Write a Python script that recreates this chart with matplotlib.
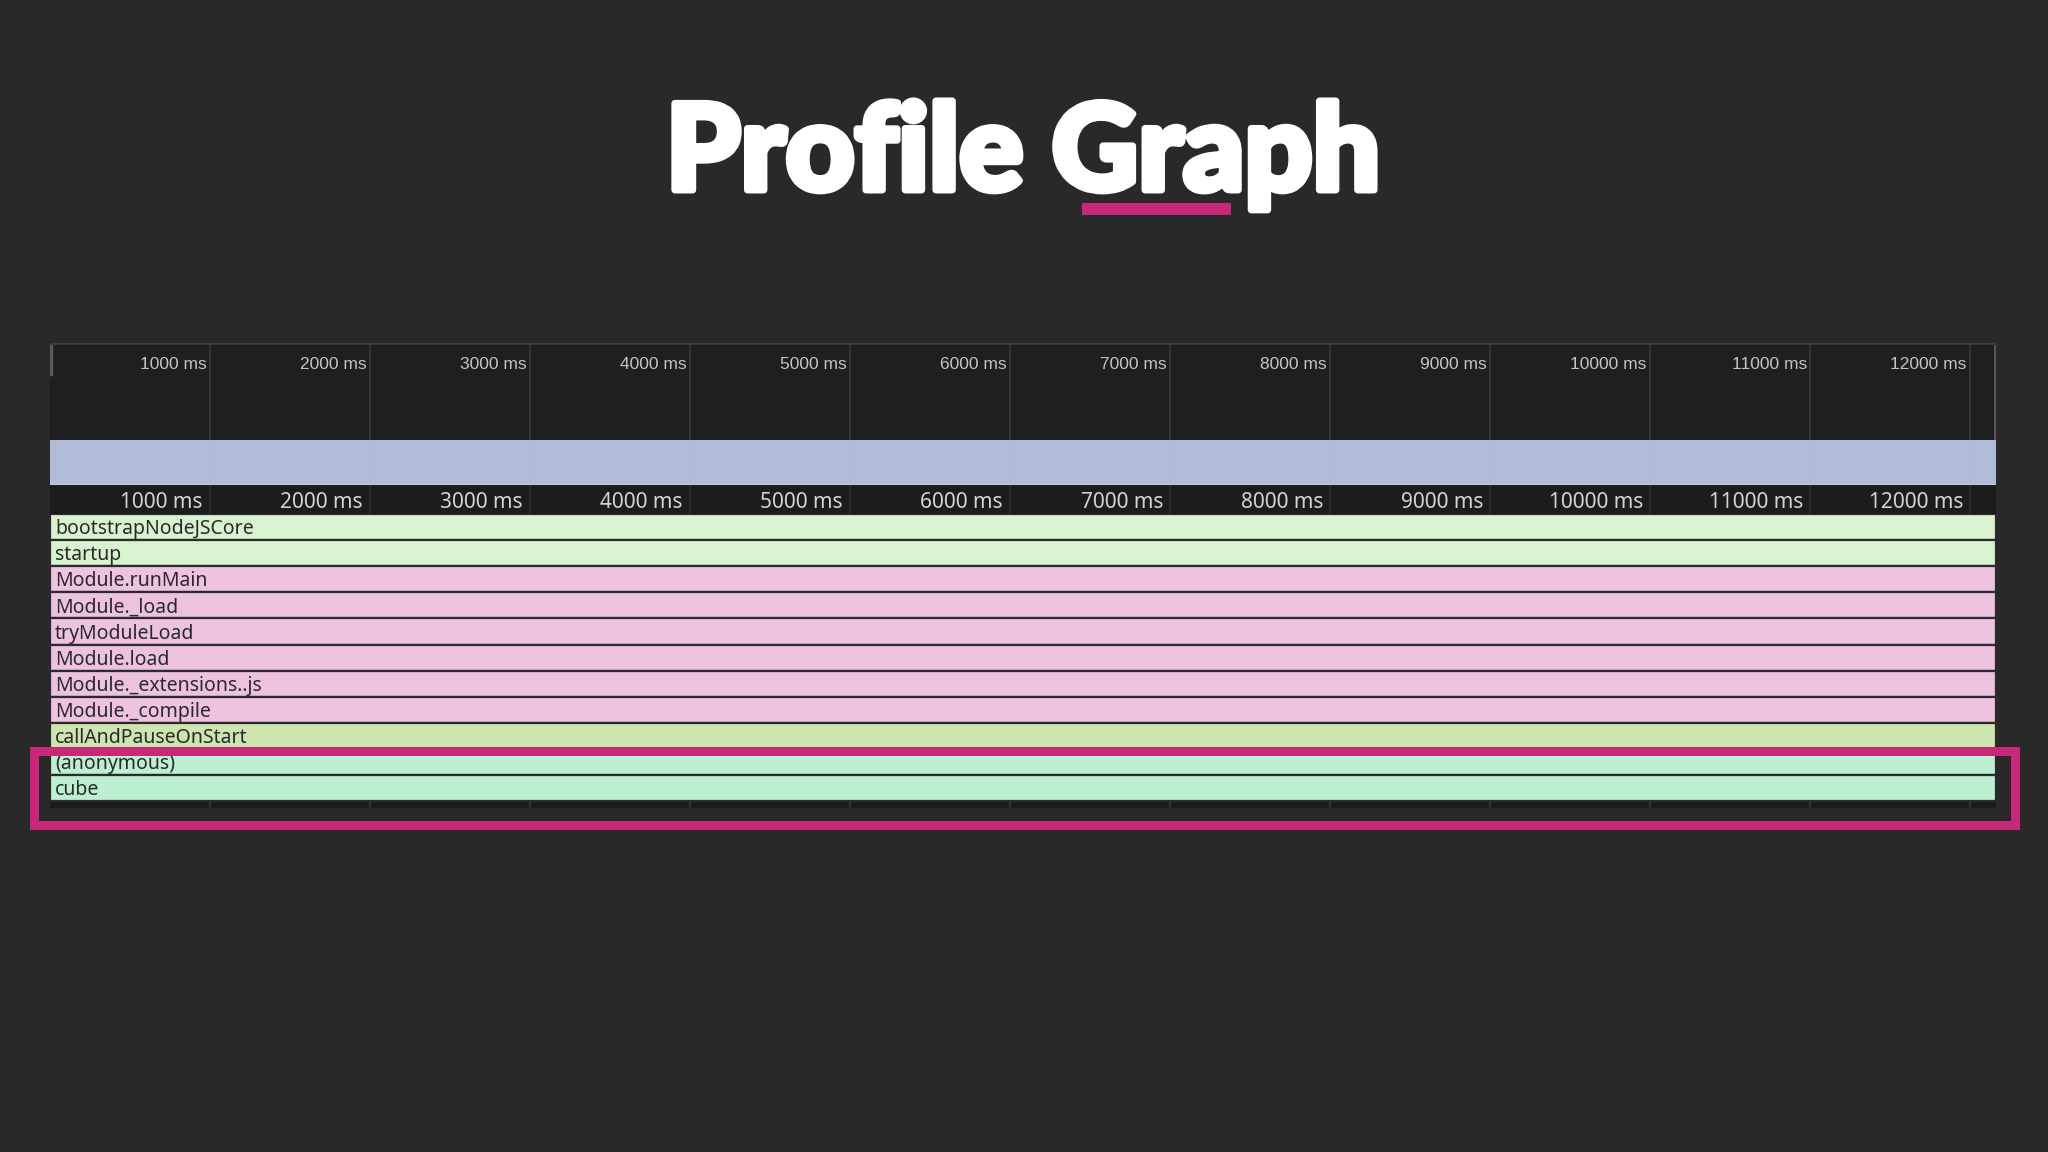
import matplotlib
matplotlib.use("Agg")
import matplotlib.pyplot as plt
import matplotlib.patheffects as pe
from matplotlib.patches import Rectangle

# ---- data ----
frames = ["bootstrapNodeJSCore", "startup", "Module.runMain", "Module._load",
          "tryModuleLoad", "Module.load", "Module._extensions..js",
          "Module._compile", "callAndPauseOnStart", "(anonymous)", "cube"]
frame_start = [0, 0, 0, 0, 0, 0, 0, 0, 0, 0, 0]              # ms
frame_end = [12160, 12160, 12160, 12160, 12160, 12160,
             12160, 12160, 12160, 12160, 12160]              # ms
frame_colors = ["#d9f2d0", "#d9f2d0", "#efc2df", "#edc2dc", "#edc2dc",
                "#edc2dc", "#edc2dc", "#efc2df", "#cde6b0", "#bdf0d2", "#bdf0d2"]
highlighted = ["(anonymous)", "cube"]
tick_ms = [1000, 2000, 3000, 4000, 5000, 6000, 7000, 8000, 9000, 10000, 11000, 12000]
tick_labels = [f"{t} ms" for t in tick_ms]
total_ms = 12160

BG = "#292929"
PANEL = "#1f1f21"
GRID = "#3a3a3c"
PINK = "#c8287a"

W, H = 2048, 1152
fig = plt.figure(figsize=(W / 100, H / 100), dpi=100, facecolor=BG)


def px_axes(x0, y0, x1, y1):
    # box in pixel coords, origin at top-left
    ax = fig.add_axes([x0 / W, 1 - y1 / H, (x1 - x0) / W, (y1 - y0) / H])
    ax.set_xlim(0, total_ms)
    ax.set_xticks([])
    ax.set_yticks([])
    for s in ax.spines.values():
        s.set_visible(False)
    return ax


# title (stroke to fatten the glyphs a bit)
fig.text(1023 / W, 1 - 190 / H, "Profile Graph", ha="center", va="baseline",
         color="white", fontsize=86, fontweight="black", family=["Lato", "DejaVu Sans"],
         path_effects=[pe.withStroke(linewidth=5, foreground="white")])
fig.patches.append(Rectangle((1082 / W, 1 - 215 / H), 149 / W, 12 / H,
                             transform=fig.transFigure, color=PINK, lw=0))

# overview strip
ov = px_axes(50, 343, 1996, 440)
ov.set_facecolor(PANEL)
ov.set_ylim(0, 1)
ov.vlines(tick_ms, 0, 1, color=GRID, lw=1.2)
for t, lab in zip(tick_ms, tick_labels):
    ov.text(t - 22, 0.73, lab, ha="right", va="baseline", color="#c4c4c4",
            fontsize=12.5, family="Liberation Sans")
ov.axvline(8, 0.68, 0.97, color="#5a5a5a", lw=2.5)
ov.axvline(total_ms - 8, 0.0, 0.97, color="#5a5a5a", lw=2)
ov.axhline(0.995, color="#3c3c3c", lw=2)

# blue cpu band
band = px_axes(50, 440, 1996, 485)
band.set_facecolor(PANEL)
band.set_ylim(0, 1)
band.barh(0.5, total_ms, left=0, height=1, color="#b1bdd8", lw=0)
band.vlines(tick_ms, 0, 1, color="#adb9d4", lw=1)
band.axhline(0.0, color="#c0c8dc", lw=1.5)

# ruler
ru = px_axes(50, 485, 1996, 514)
ru.set_facecolor("#1c1c1d")
ru.set_ylim(0, 1)
ru.vlines(tick_ms, 0, 1, color="#2e2e30", lw=1.2)
for t, lab in zip(tick_ms, tick_labels):
    ru.text(t - 45, 0.22, lab, ha="right", va="baseline", color="#d4d4d4",
            fontsize=15, family="Noto Sans")

# flame rows
fl = px_axes(50, 514, 1996, 808)
fl.set_facecolor("#1c1c1d")
row_h_px = 26.1
fl.set_ylim(294 / row_h_px, 0)
fl.vlines(tick_ms, 11, 294 / row_h_px, color="#38383a", lw=1.2)
ys = list(range(len(frames)))
fl.barh([y + 0.5 for y in ys], [e - s for s, e in zip(frame_start, frame_end)],
        left=frame_start, height=1.0, color=frame_colors,
        edgecolor="#2b2b2d", lw=1.6, align="center")
for y, name, s in zip(ys, frames, frame_start):
    fl.text(s + 31, y + 0.58, name, ha="left", va="center", color="#2a2a2a",
            fontsize=14, family="Noto Sans")

# highlight box around selected frames
hi = [frames.index(n) for n in highlighted]
fl.add_patch(Rectangle((-103, min(hi) + 0.09), total_ms + 221,
                       (max(hi) + 1 - min(hi)) + 0.84,
                       fill=False, edgecolor=PINK, lw=6.5, clip_on=False,
                       joinstyle="miter", zorder=5))

fig.savefig("out.png", dpi=100, facecolor=BG)
